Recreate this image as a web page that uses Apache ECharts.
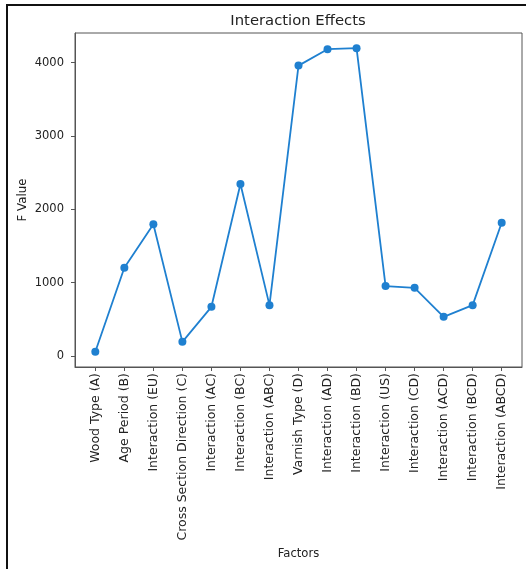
<!DOCTYPE html>
<html>
<head>
<meta charset="utf-8">
<script src="https://cdn.jsdelivr.net/npm/echarts@6/dist/echarts.min.js"></script>
<style>
html,body{margin:0;padding:0;background:#fff;}
#chart{width:526px;height:569px;}
</style>
</head>
<body>
<div id="chart"></div>
<script>
const categories = ["Wood Type (A)", "Age Period (B)", "Interaction (EU)", "Cross Section Direction (C)", "Interaction (AC)", "Interaction (BC)", "Interaction (ABC)", "Varnish Type (D)", "Interaction (AD)", "Interaction (BD)", "Interaction (US)", "Interaction (CD)", "Interaction (ACD)", "Interaction (BCD)", "Interaction (ABCD)"];
const fValues = [55, 1201, 1794, 191, 669, 2344, 692, 3959, 4183, 4197, 952, 928, 532, 692, 1816];
const yTicks = [0, 1000, 2000, 3000, 4000];

const chart = echarts.init(document.getElementById('chart'), null, {renderer: 'canvas'});
const font = 'DejaVu Sans';
const seriesData = fValues.map((v, i) => [i, v]);
const xTickVals = categories.map((c, i) => i);

chart.setOption({
  backgroundColor: '#fff',
  animation: false,
  title: {
    text: 'Interaction Effects',
    left: 293, top: 9, textAlign: 'center',
    textStyle: {fontFamily: font, fontSize: 14.8, fontWeight: 'normal', color: '#222'}
  },
  grid: {left: 75, right: 4, top: 33, bottom: 202, show: true, borderColor: '#555', borderWidth: 1, backgroundColor: 'transparent'},
  xAxis: {
    type: 'value',
    min: -0.7, max: 14.7,
    name: 'Factors', nameLocation: 'middle', nameGap: 181, nameMoveOverlap: false,
    nameTextStyle: {fontFamily: font, fontSize: 11.6, color: '#222'},
    axisLine: {show: true, onZero: false, lineStyle: {color: '#555', width: 1}},
    axisTick: {show: true, length: 4, customValues: xTickVals, lineStyle: {color: '#555'}},
    splitLine: {show: false},
    axisLabel: {
      customValues: xTickVals,
      rotate: 90, margin: 6,
      fontFamily: font, fontSize: 12.5, color: '#222',
      formatter: v => categories[Math.round(v)] || ''
    }
  },
  yAxis: {
    type: 'value',
    min: -152, max: 4404,
    name: 'F Value', nameLocation: 'middle', nameGap: 46, nameRotate: 90, nameMoveOverlap: false,
    nameTextStyle: {fontFamily: font, fontSize: 11.8, color: '#222'},
    axisLine: {show: true, onZero: false, lineStyle: {color: '#555', width: 1}},
    axisTick: {show: true, length: 4, customValues: yTicks, lineStyle: {color: '#555'}},
    splitLine: {show: false},
    axisLabel: {customValues: yTicks, margin: 11, fontFamily: font, fontSize: 11.5, color: '#222', formatter: v => String(v)}
  },
  series: [{
    type: 'line',
    data: seriesData,
    symbol: 'circle', symbolSize: 8,
    lineStyle: {color: '#1f80d0', width: 1.8},
    itemStyle: {color: '#1f80d0'},
    emphasis: {disabled: true}
  }],
  graphic: [
    {type: 'line', shape: {x1: 6, y1: 5, x2: 526, y2: 5}, style: {stroke: '#111', lineWidth: 2}},
    {type: 'line', shape: {x1: 7, y1: 5, x2: 7, y2: 569}, style: {stroke: '#111', lineWidth: 2}}
  ]
});
</script>
</body>
</html>
